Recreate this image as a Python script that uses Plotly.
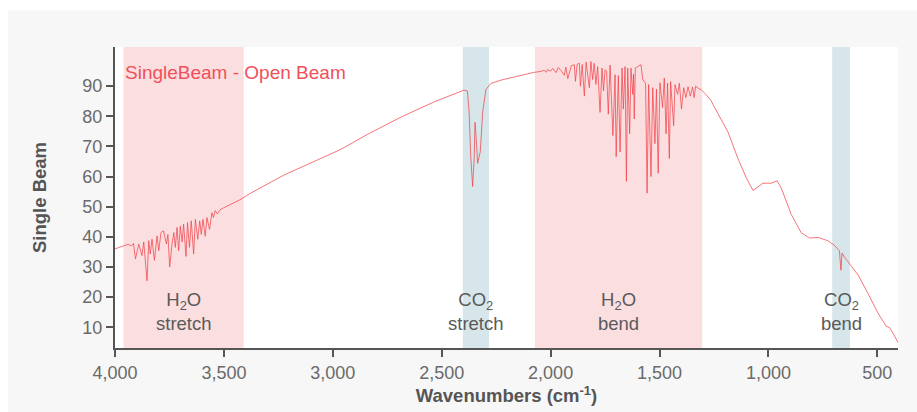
import plotly.graph_objects as go

# ---------------- data ----------------
wavenumber = [
    4000, 3985, 3970, 3955, 3940, 3925, 3915, 3906, 3891, 3876, 3868, 3853, 3845, 3838, 3830,
    3819, 3807, 3799, 3789, 3777, 3764, 3757, 3749, 3738, 3730, 3723, 3715, 3708, 3700, 3692,
    3685, 3674, 3667, 3658, 3650, 3639, 3631, 3620, 3611, 3604, 3596, 3586, 3578, 3566, 3555,
    3548, 3540, 3530, 3517, 3502, 3472, 3426, 3377, 3224, 3071, 2964, 2841, 2688, 2534, 2460,
    2397, 2382, 2374, 2367, 2358, 2351, 2347, 2341, 2335, 2323, 2312, 2297, 2274, 2228, 2142,
    2075, 2044, 2030, 2020, 2014, 2000, 1990, 1975, 1965, 1950, 1937, 1930, 1921, 1905, 1891,
    1886, 1878, 1868, 1863, 1855, 1845, 1837, 1822, 1815, 1807, 1800, 1792, 1784, 1773, 1764,
    1757, 1750, 1743, 1735, 1727, 1714, 1704, 1699, 1689, 1681, 1672, 1666, 1658, 1652, 1646,
    1637, 1631, 1623, 1619, 1616, 1611, 1600, 1590, 1585, 1577, 1564, 1557, 1550, 1539, 1531,
    1521, 1514, 1506, 1498, 1486, 1478, 1470, 1463, 1455, 1449, 1435, 1429, 1417, 1409, 1399,
    1389, 1379, 1369, 1359, 1348, 1341, 1334, 1320, 1308, 1290, 1263, 1255, 1185, 1140, 1101,
    1071, 1048, 1025, 987, 960, 941, 895, 850, 811, 772, 727, 696, 674, 667, 662,
    651, 628, 588, 543, 497, 459, 444, 421, 405,
]
single_beam = [
    36.0, 36.4, 36.8, 37.2, 37.5, 37.0, 37.8, 32.7, 37.6, 33.8, 38.3, 25.4, 38.7, 34.3, 39.2,
    32.2, 40.3, 35.4, 41.4, 42.0, 37.6, 40.8, 30.0, 37.6, 41.4, 36.5, 43.1, 35.4, 43.6, 38.3,
    44.2, 33.5, 44.7, 36.5, 45.3, 34.3, 45.8, 39.2, 45.3, 40.8, 45.8, 40.2, 46.4, 42.5, 48.0,
    46.4, 48.7, 47.6, 49.0, 49.6, 50.7, 52.3, 54.5, 60.5, 65.5, 69.0, 74.0, 79.7, 84.8, 87.0,
    88.7, 88.4, 81.3, 67.1, 56.7, 66.0, 78.0, 72.0, 64.4, 68.2, 81.3, 88.9, 90.9, 92.0, 93.5,
    94.6, 94.9, 95.3, 94.6, 95.5, 95.0, 95.9, 94.5, 96.2, 95.0, 93.6, 96.3, 92.5, 96.8, 97.1,
    91.6, 97.3, 97.6, 90.0, 97.2, 86.7, 98.0, 89.5, 98.2, 92.2, 97.6, 90.6, 96.5, 81.3, 96.0,
    88.4, 95.5, 95.0, 80.7, 97.0, 73.6, 93.8, 66.6, 93.5, 68.2, 96.0, 82.4, 96.5, 58.4, 96.0,
    74.2, 96.0, 87.3, 94.0, 79.1, 96.0, 96.5, 97.1, 97.1, 92.2, 91.0, 54.5, 90.6, 60.0, 89.5,
    70.9, 89.0, 61.1, 91.1, 82.9, 92.7, 74.2, 91.0, 66.0, 91.5, 76.9, 90.5, 87.3, 91.0, 82.4,
    89.5, 86.2, 89.8, 86.7, 89.7, 86.2, 90.0, 89.2, 88.8, 87.5, 85.2, 84.0, 74.7, 66.0, 59.5,
    55.4, 56.7, 57.8, 57.8, 58.6, 56.2, 47.4, 41.4, 39.6, 39.8, 38.7, 37.1, 35.4, 28.9, 34.6,
    33.3, 31.1, 27.3, 21.2, 14.7, 10.3, 9.9, 7.1, 4.9,
]

series_name = "SingleBeam - Open Beam"

# shaded absorption bands: (start, end, kind, label)
band_start = [3961, 2403, 2072, 707]
band_end = [3409, 2283, 1304, 626]
band_kind = ["h2o", "co2", "h2o", "co2"]
band_label = ["H<sub>2</sub>O<br>stretch", "CO<sub>2</sub><br>stretch",
              "H<sub>2</sub>O<br>bend", "CO<sub>2</sub><br>bend"]

y_ticks = [10, 20, 30, 40, 50, 60, 70, 80, 90]
x_ticks = [4000, 3500, 3000, 2500, 2000, 1500, 1000, 500]

# ---------------- figure ----------------
FONT = "Liberation Sans, Arial, sans-serif"
band_colors = {"h2o": "#fbdee0", "co2": "#d6e6ea"}

fig = go.Figure()
fig.add_trace(go.Scatter(
    x=wavenumber, y=single_beam, mode="lines", name=series_name,
    line=dict(color="rgba(240,64,70,0.72)", width=1), showlegend=False,
))

shapes = []
# outer page strips (white) over the grey paper
shapes.append(dict(type="rect", xref="paper", yref="paper", x0=-0.3, x1=1.2,
                   y0=1.121, y1=1.3, fillcolor="white", line=dict(width=0), layer="below"))
shapes.append(dict(type="rect", xref="paper", yref="paper", x0=-0.3, x1=-0.137,
                   y0=-0.4, y1=1.3, fillcolor="white", line=dict(width=0), layer="below"))
for s, e, k in zip(band_start, band_end, band_kind):
    shapes.append(dict(type="rect", xref="x", yref="paper", x0=s, x1=e, y0=0, y1=1,
                       fillcolor=band_colors[k], line=dict(width=0), layer="below"))

annotations = []
for s, e, lab in zip(band_start, band_end, band_label):
    annotations.append(dict(x=(s + e) / 2, y=15.3, xref="x", yref="y", text=lab,
                            showarrow=False, font=dict(family=FONT, size=18.5, color="#5a5a5a"),
                            xanchor="center", yanchor="middle", align="center"))
annotations.append(dict(x=0.010, y=0.915, xref="paper", yref="paper", text=series_name,
                        showarrow=False, xanchor="left", yanchor="middle",
                        font=dict(family=FONT, size=19, color="#f0505a")))

fig.update_layout(
    width=917, height=412,
    margin=dict(l=115, r=19, t=47, b=60),
    paper_bgcolor="#f7f7f7", plot_bgcolor="white",
    shapes=shapes, annotations=annotations,
    font=dict(family=FONT, size=18, color="#6a6a6a"),
)
fig.update_xaxes(
    range=[4000, 405], tickvals=x_ticks, tickformat=",",
    showline=True, linecolor="#555555", linewidth=2,
    ticks="outside", ticklen=7, tickwidth=2, tickcolor="#555555",
    showgrid=False, zeroline=False,
    tickfont=dict(family=FONT, size=18, color="#6a6a6a"),
    title=dict(text="<b>Wavenumbers (cm<sup>-1</sup>)</b>", standoff=4,
               font=dict(family=FONT, size=18.5, color="#555555")),
)
fig.update_yaxes(
    range=[3.1, 103], tickvals=y_ticks,
    showline=True, linecolor="#555555", linewidth=2,
    ticks="outside", ticklen=7, tickwidth=2, tickcolor="#555555",
    showgrid=False, zeroline=False,
    tickfont=dict(family=FONT, size=18, color="#6a6a6a"),
    title=dict(text="<b>Single Beam</b>", standoff=31,
               font=dict(family=FONT, size=18.5, color="#555555")),
)

fig.write_html("out.html")
